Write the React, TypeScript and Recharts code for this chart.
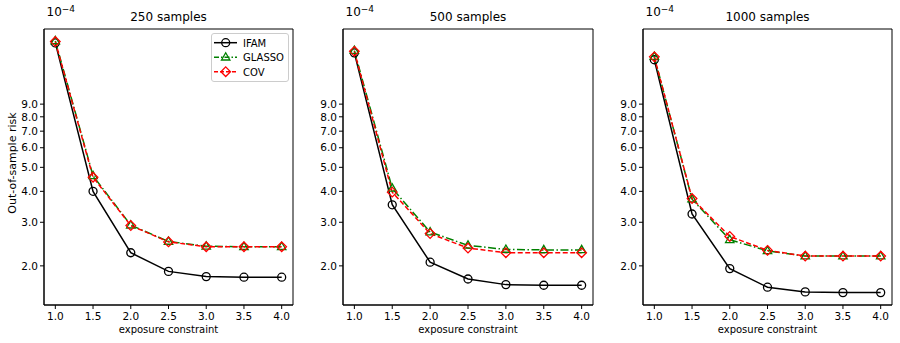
import React from 'react';
import { LineChart, Line, XAxis, YAxis, ReferenceArea } from 'recharts';

// out-of-sample risk, in units of 1e-4
const exposure = [1.0, 1.5, 2.0, 2.5, 3.0, 3.5, 4.0];
const yTicks = [2, 3, 4, 5, 6, 7, 8, 9];

const ifam250 = [15.9, 4.0, 2.26, 1.9, 1.81, 1.8, 1.8];
const glasso250 = [16.2, 4.62, 2.92, 2.51, 2.4, 2.39, 2.39];
const cov250 = [16.1, 4.56, 2.91, 2.5, 2.39, 2.39, 2.39];

const ifam500 = [14.5, 3.53, 2.07, 1.77, 1.68, 1.67, 1.67];
const glasso500 = [14.8, 4.11, 2.74, 2.42, 2.33, 2.32, 2.32];
const cov500 = [14.7, 3.97, 2.7, 2.36, 2.26, 2.26, 2.26];

const ifam1000 = [13.6, 3.24, 1.95, 1.64, 1.57, 1.56, 1.56];
const glasso1000 = [14.0, 3.72, 2.55, 2.3, 2.19, 2.19, 2.19];
const cov1000 = [13.97, 3.74, 2.63, 2.31, 2.19, 2.19, 2.19];

const X_DOMAIN: [number, number] = [0.85, 4.15];
const Y_DOMAIN: [number, number] = [1.39, 18.1];
const FONT = '"DejaVu Sans", sans-serif';
const GREEN = '#008000';
const RED = '#ff0000';

const panels = [
  { title: '250 samples', ifam: ifam250, glasso: glasso250, cov: cov250, yWidth: 44, right: 7 },
  { title: '500 samples', ifam: ifam500, glasso: glasso500, cov: cov500, yWidth: 43, right: 7 },
  { title: '1000 samples', ifam: ifam1000, glasso: glasso1000, cov: cov1000, yWidth: 43, right: 8 },
];

function circle(cx: number, cy: number, color: string, key?: any) {
  return <circle key={key} cx={cx} cy={cy} r={4} fill="none" stroke={color} strokeWidth={1.3} />;
}
function triangle(cx: number, cy: number, color: string, key?: any) {
  const pts = `${cx},${cy - 4.5} ${cx - 4.2},${cy + 2.8} ${cx + 4.2},${cy + 2.8}`;
  return <polygon key={key} points={pts} fill="none" stroke={color} strokeWidth={1.3} />;
}
function diamond(cx: number, cy: number, color: string, key?: any) {
  const pts = `${cx},${cy - 4.8} ${cx + 4.8},${cy} ${cx},${cy + 4.8} ${cx - 4.8},${cy}`;
  return <polygon key={key} points={pts} fill="none" stroke={color} strokeWidth={1.3} />;
}

const ifamDot = (p: any) => circle(p.cx, p.cy, '#000', `c${p.index}`);
const glassoDot = (p: any) => triangle(p.cx, p.cy, GREEN, `t${p.index}`);
const covDot = (p: any) => diamond(p.cx, p.cy, RED, `d${p.index}`);

const fmt = (v: number) => v.toFixed(1);

function Panel({ idx }: { idx: number }) {
  const p = panels[idx];
  const rows = exposure.map((x, i) => ({ x, ifam: p.ifam[i], glasso: p.glasso[i], cov: p.cov[i] }));
  const axLeft = p.yWidth;
  const axWidth = 300 - p.yWidth - p.right;
  return (
    <div style={{ position: 'absolute', left: idx * 300, top: 0, width: 300, height: 343, fontFamily: FONT }}>
      <LineChart width={300} height={343} data={rows} margin={{ top: 29, right: p.right, bottom: 0, left: 0 }}>
        <XAxis
          dataKey="x"
          type="number"
          domain={X_DOMAIN}
          allowDataOverflow
          ticks={exposure}
          interval={0}
          tickFormatter={fmt}
          height={38}
          tickSize={4}
          tickMargin={3.5}
          stroke="#000"
          tick={{ fill: '#000', fontSize: 10.5, fontFamily: FONT }}
          label={{ value: 'exposure constraint', position: 'insideBottom', offset: 10, fill: '#000', fontSize: 10, fontFamily: FONT }}
        />
        <YAxis
          type="number"
          scale="log"
          domain={Y_DOMAIN}
          allowDataOverflow
          ticks={yTicks}
          interval={0}
          tickFormatter={fmt}
          width={p.yWidth}
          tickSize={4}
          tickMargin={2}
          stroke="#000"
          tick={{ fill: '#000', fontSize: 10.5, fontFamily: FONT }}
        />
        <ReferenceArea x1={X_DOMAIN[0]} x2={X_DOMAIN[1]} y1={Y_DOMAIN[0]} y2={Y_DOMAIN[1]} fill="none" stroke="#000" strokeWidth={1} />
        <Line dataKey="ifam" stroke="#000" strokeWidth={1.5} dot={ifamDot} isAnimationActive={false} />
        <Line dataKey="glasso" stroke={GREEN} strokeWidth={1.5} strokeDasharray="8 2.5 1.5 2.5" dot={glassoDot} isAnimationActive={false} />
        <Line dataKey="cov" stroke={RED} strokeWidth={1.5} strokeDasharray="5 2.5" dot={covDot} isAnimationActive={false} />
      </LineChart>
      <div style={{ position: 'absolute', left: axLeft, width: axWidth, top: 11, lineHeight: '12px', fontSize: 12, textAlign: 'center' }}>
        {p.title}
      </div>
      <div style={{ position: 'absolute', left: axLeft + 2.5, top: 6, lineHeight: '12px', fontSize: 12 }}>
        10<span style={{ fontSize: 9, position: 'relative', top: -4.5 }}>−4</span>
      </div>
      {idx === 0 && (
        <div
          style={{
            position: 'absolute', left: 12, top: 163, fontSize: 11, whiteSpace: 'nowrap',
            transform: 'translate(-50%, -50%) rotate(-90deg)',
          }}
        >
          Out-of-sample risk
        </div>
      )}
      {idx === 0 && <LegendBox />}
    </div>
  );
}

function LegendBox() {
  const items = [
    { name: 'IFAM', color: '#000', dash: undefined, mk: circle },
    { name: 'GLASSO', color: GREEN, dash: '5 2 1.5 2', mk: triangle },
    { name: 'COV', color: RED, dash: '4 2', mk: diamond },
  ];
  return (
    <svg style={{ position: 'absolute', left: 211, top: 33 }} width={78} height={49}>
      <rect x={0.5} y={0.5} width={77} height={48} rx={2.5} fill="#fff" fillOpacity={0.8} stroke="#ccc" />
      {items.map((it, i) => {
        const y = 9.7 + i * 14.5;
        return (
          <g key={it.name}>
            <line x1={3} x2={26} y1={y} y2={y} stroke={it.color} strokeWidth={1.5} strokeDasharray={it.dash} />
            {it.mk(14.7, y, it.color)}
            <text x={32} y={y + 3.8} fontSize={10} fontFamily={FONT} fill="#000">{it.name}</text>
          </g>
        );
      })}
    </svg>
  );
}

export default function App() {
  return (
    <div style={{ position: 'absolute', left: 0, top: 0, width: 900, height: 343, background: '#fff' }}>
      <Panel idx={0} />
      <Panel idx={1} />
      <Panel idx={2} />
    </div>
  );
}
